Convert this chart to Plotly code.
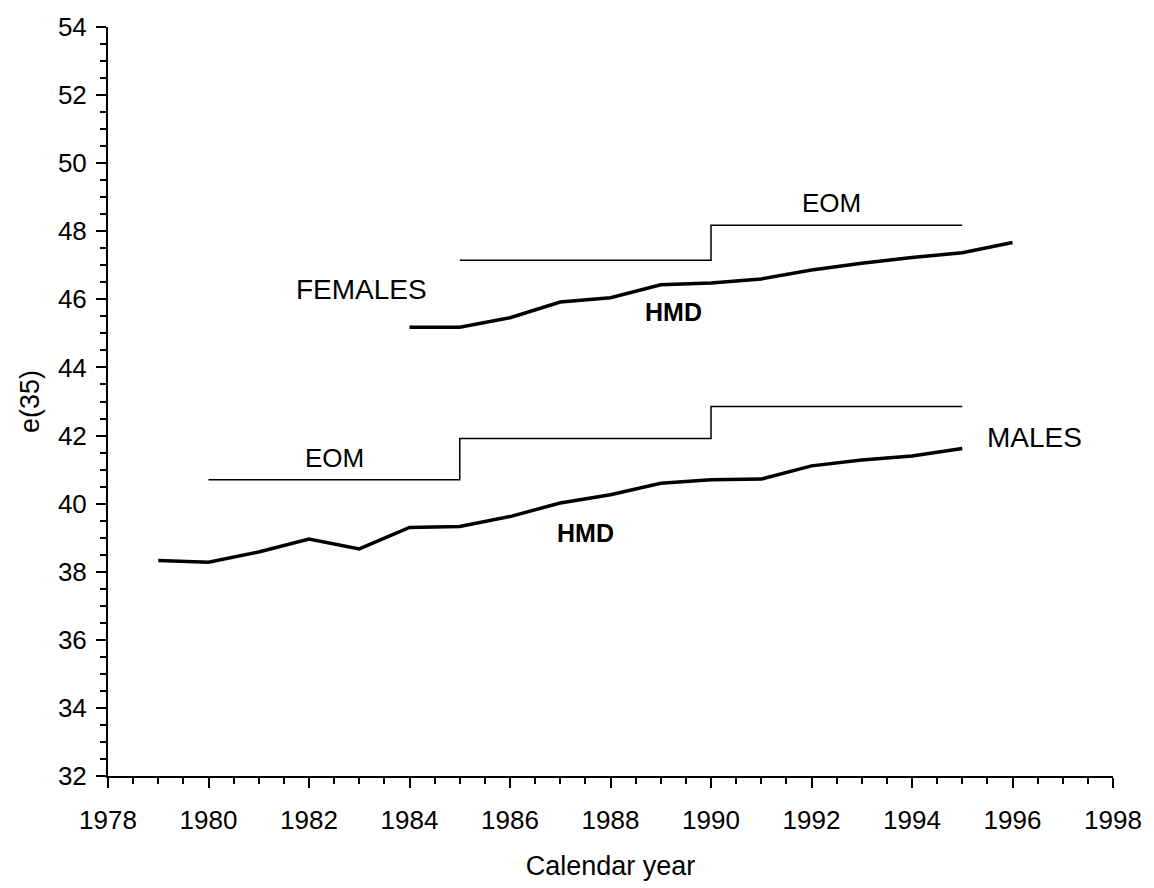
import plotly.graph_objects as go

# HMD series
male_years = [1979, 1980, 1981, 1982, 1983, 1984, 1985, 1986, 1987, 1988, 1989,
              1990, 1991, 1992, 1993, 1994, 1995]
male_hmd = [38.33, 38.28, 38.58, 38.96, 38.67, 39.30, 39.33, 39.62, 40.02, 40.26, 40.60,
            40.70, 40.72, 41.11, 41.28, 41.40, 41.62]

female_years = [1984, 1985, 1986, 1987, 1988, 1989, 1990, 1991, 1992, 1993, 1994, 1995, 1996]
female_hmd = [45.18, 45.18, 45.46, 45.92, 46.05, 46.43, 46.48, 46.60, 46.86, 47.06, 47.23,
              47.37, 47.67]

# EOM step series
male_eom_years = [1980, 1985, 1990, 1995]
male_eom = [40.70, 41.91, 42.85, 42.85]
female_eom_years = [1985, 1990, 1995]
female_eom = [47.15, 48.18, 48.18]

FONT = "Arial, Liberation Sans, sans-serif"

fig = go.Figure()
fig.add_trace(go.Scatter(x=male_eom_years, y=male_eom, mode="lines", line_shape="hv",
                         line=dict(color="black", width=1.5), showlegend=False))
fig.add_trace(go.Scatter(x=female_eom_years, y=female_eom, mode="lines", line_shape="hv",
                         line=dict(color="black", width=1.5), showlegend=False))
fig.add_trace(go.Scatter(x=male_years, y=male_hmd, mode="lines",
                         line=dict(color="black", width=3.5), showlegend=False))
fig.add_trace(go.Scatter(x=female_years, y=female_hmd, mode="lines",
                         line=dict(color="black", width=3.5), showlegend=False))

annots = [
    ("FEMALES", 1983.04, 46.28, 28, False),
    ("HMD", 1989.26, 45.64, 25, True),
    ("EOM", 1992.39, 48.84, 26, False),
    ("MALES", 1996.43, 41.93, 28, False),
    ("EOM", 1982.5, 41.33, 26, False),
    ("HMD", 1987.5, 39.15, 25, True),
]
for text, x, y, size, bold in annots:
    fig.add_annotation(x=x, y=y, text=f"<b>{text}</b>" if bold else text, showarrow=False,
                       xanchor="center", yanchor="middle",
                       font=dict(family=FONT, size=size, color="black"))

fig.update_layout(
    width=1154, height=888,
    margin=dict(l=108, r=39, t=20, b=110),
    paper_bgcolor="white", plot_bgcolor="white",
    font=dict(family=FONT, color="black"),
    showlegend=False,
)
fig.update_xaxes(
    range=[1978, 1998], tickmode="linear", tick0=1978, dtick=2,
    showgrid=False, zeroline=False, showline=True, linecolor="black", linewidth=2,
    ticks="outside", ticklen=10, tickwidth=2, tickcolor="black",
    ticklabelstandoff=10,
    tickfont=dict(family=FONT, size=26, color="black"),
    minor=dict(dtick=0.5, tick0=1978, ticks="outside", ticklen=6, tickwidth=2, tickcolor="black"),
    title=dict(text="Calendar year", font=dict(family=FONT, size=27, color="black"), standoff=22),
)
fig.update_yaxes(
    range=[32, 54], tickmode="linear", tick0=32, dtick=2,
    showgrid=False, zeroline=False, showline=True, linecolor="black", linewidth=2,
    ticks="outside", ticklen=10, tickwidth=2, tickcolor="black",
    ticklabelstandoff=4,
    tickfont=dict(family=FONT, size=26, color="black"),
    minor=dict(dtick=0.5, tick0=32, ticks="outside", ticklen=6, tickwidth=2, tickcolor="black"),
    title=dict(text="e(35)", font=dict(family=FONT, size=27, color="black"), standoff=10),
)

fig.write_html("out.html")
